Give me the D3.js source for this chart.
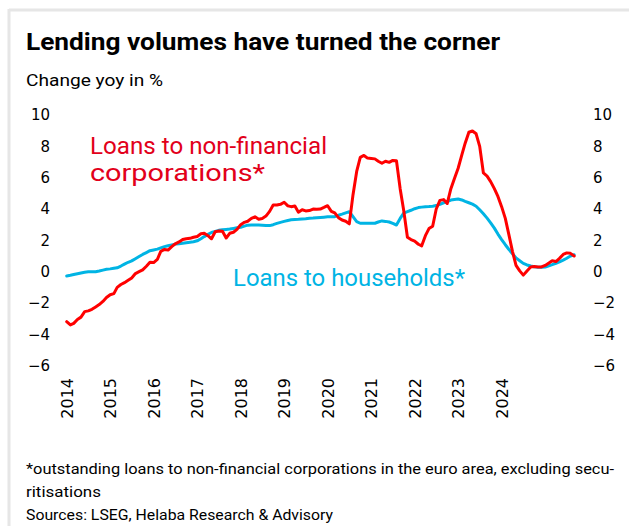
<!DOCTYPE html>
<html>
<head>
<meta charset="utf-8">
<script src="https://cdn.jsdelivr.net/npm/d3@7"></script>
<style>
  html, body { margin: 0; padding: 0; background: #fff; }
  svg { display: block; }
</style>
</head>
<body>
<svg id="chart" width="629" height="526"></svg>
<script>
// Year-on-year growth of euro-area loans, monthly from January 2014
const startYear = 2014;
const yearTicks = [2014, 2015, 2016, 2017, 2018, 2019, 2020, 2021, 2022, 2023, 2024];
const valueTicks = [-6, -4, -2, 0, 2, 4, 6, 8, 10];

// Loans to non-financial corporations, % yoy
const loansNFC = [
  -3.19, -3.4, -3.3, -3.05, -2.9, -2.55, -2.5, -2.4, -2.25, -2.1,
  -1.9, -1.65, -1.47, -1.4, -1.0, -0.82, -0.7, -0.55, -0.4, -0.12,
  0.0, 0.12, 0.35, 0.6, 0.58, 0.78, 1.3, 1.42, 1.38, 1.6,
  1.78, 1.9, 2.05, 2.1, 2.13, 2.2, 2.25, 2.42, 2.45, 2.3,
  2.1, 2.55, 2.6, 2.58, 2.15, 2.45, 2.52, 2.7, 3.0, 3.15,
  3.22, 3.4, 3.5, 3.35, 3.4, 3.55, 3.85, 4.26, 4.26, 4.3,
  4.43, 4.2, 4.15, 4.19, 3.8, 3.95, 3.88, 3.9, 4.0, 3.98,
  4.0, 4.1, 4.21, 3.85, 3.75, 3.45, 3.3, 3.22, 3.05, 4.9,
  6.4, 7.3, 7.42, 7.25, 7.23, 7.2, 7.05, 6.92, 7.05, 6.98,
  7.1, 7.08, 5.3, 3.9, 2.2, 2.05, 1.95, 1.75, 1.65, 2.3,
  2.75, 2.9, 4.0, 4.55, 4.6, 4.35, 5.3, 5.95, 6.6, 7.45,
  8.2, 8.9, 8.98, 8.8, 8.0, 6.3, 6.1, 5.75, 5.3, 4.8,
  4.15, 3.4, 2.4, 1.3, 0.4, 0.05, -0.22, 0.05, 0.3, 0.33,
  0.3, 0.3, 0.4, 0.55, 0.7, 0.65, 0.85, 1.1, 1.2, 1.17, 1.0
];

// Loans to households, % yoy
const loansHH = [
  -0.27, -0.23, -0.18, -0.13, -0.08, -0.03, 0, 0, 0, 0.04,
  0.1, 0.15, 0.18, 0.22, 0.25, 0.36, 0.48, 0.6, 0.69, 0.83,
  0.97, 1.1, 1.22, 1.34, 1.39, 1.44, 1.52, 1.6, 1.66, 1.71,
  1.76, 1.79, 1.82, 1.85, 1.88, 1.91, 1.97, 2.1, 2.24, 2.38,
  2.5, 2.57, 2.64, 2.68, 2.7, 2.72, 2.76, 2.8, 2.84, 2.91,
  2.97, 2.98, 2.98, 2.98, 2.97, 2.95, 2.94, 3.0, 3.08, 3.15,
  3.21, 3.27, 3.31, 3.33, 3.34, 3.36, 3.38, 3.41, 3.42, 3.44,
  3.46, 3.48, 3.5, 3.51, 3.51, 3.6, 3.67, 3.75, 3.83, 3.51,
  3.2, 3.09, 3.09, 3.09, 3.09, 3.09, 3.17, 3.24, 3.21, 3.17,
  3.08, 2.98, 3.4, 3.74, 3.83, 3.92, 4.02, 4.09, 4.12, 4.15,
  4.16, 4.18, 4.22, 4.3, 4.4, 4.48, 4.57, 4.61, 4.64, 4.58,
  4.49, 4.4, 4.31, 4.18, 3.95, 3.7, 3.42, 3.12, 2.78, 2.4,
  2.05, 1.72, 1.43, 1.15, 0.88, 0.7, 0.53, 0.43, 0.36, 0.31,
  0.29, 0.28, 0.3, 0.38, 0.45, 0.54, 0.63, 0.74, 0.86, 1.0, 1.08
];

const title = "Lending volumes have turned the corner";
const subtitle = "Change yoy in %";
const labelNFC = ["Loans to non-financial", "corporations*"];
const labelHH = "Loans to households*";
const notes = [
  "*outstanding loans to non-financial corporations in the euro area, excluding secu-",
  "ritisations",
  "Sources: LSEG, Helaba Research & Advisory"
];

const RED = "#ff0000";
const RED_TEXT = "#e2001a";
const BLUE = "#00b4e4";
const TEXT_FONT = "Roboto, 'Noto Sans', sans-serif";
const TICK_FONT = "'DejaVu Sans', Verdana, sans-serif";

const svg = d3.select("#chart");

// card frame (left and top edge)
svg.append("line").attr("x1", 9).attr("x2", 9).attr("y1", 9).attr("y2", 526)
  .attr("stroke", "#e6e6e6").attr("stroke-width", 3);
svg.append("line").attr("x1", 9).attr("x2", 629).attr("y1", 10).attr("y2", 10)
  .attr("stroke", "#e6e6e6").attr("stroke-width", 3);

// scales
const x = d3.scaleTime()
  .domain([new Date(2014, 0, 1), new Date(2025, 0, 1)])
  .range([66.7, 545.2]);
const y = d3.scaleLinear().domain([-6, 10]).range([365.7, 115]);

const dates = loansNFC.map((_, i) => new Date(startYear, i, 1));

// headings
svg.append("text").attr("x", 26).attr("y", 50)
  .attr("font-family", TEXT_FONT).attr("font-weight", 700).attr("font-size", 24)
  .attr("fill", "#000").attr("textLength", 474).attr("lengthAdjust", "spacingAndGlyphs")
  .text(title);
svg.append("text").attr("x", 26).attr("y", 86)
  .attr("font-family", TEXT_FONT).attr("font-size", 17)
  .attr("fill", "#000").attr("textLength", 137).attr("lengthAdjust", "spacingAndGlyphs")
  .text(subtitle);

// axes
const tickStyle = g => {
  g.select(".domain").remove();
  g.selectAll("text").attr("font-family", TICK_FONT).attr("font-size", 15).attr("fill", "#000");
};
svg.append("g").attr("transform", "translate(56,0)")
  .call(d3.axisLeft(y).tickValues(valueTicks).tickSize(0).tickPadding(6).tickFormat(d3.format("d")))
  .call(tickStyle);
svg.append("g").attr("transform", "translate(587,0)")
  .call(d3.axisRight(y).tickValues(valueTicks).tickSize(0).tickPadding(6).tickFormat(d3.format("d")))
  .call(tickStyle);
const xAxis = svg.append("g").attr("transform", "translate(0,370)")
  .call(d3.axisBottom(x).tickValues(yearTicks.map(yr => new Date(yr, 0, 1)))
    .tickSize(0).tickFormat(d3.timeFormat("%Y")))
  .call(tickStyle);
xAxis.selectAll("text")
  .attr("transform", "rotate(-90)")
  .attr("text-anchor", "end")
  .attr("x", -8).attr("y", 0).attr("dy", "0.36em")
  .attr("font-size", 16);

// lines
const line = d3.line().x((d, i) => x(dates[i])).y(d => y(d));
svg.append("path").datum(loansHH)
  .attr("d", line).attr("fill", "none").attr("stroke", BLUE)
  .attr("stroke-width", 3).attr("stroke-linejoin", "round").attr("stroke-linecap", "round");
svg.append("path").datum(loansNFC)
  .attr("d", line).attr("fill", "none").attr("stroke", RED)
  .attr("stroke-width", 3).attr("stroke-linejoin", "round").attr("stroke-linecap", "round");

// series labels
svg.append("text").attr("x", 90).attr("y", 154)
  .attr("font-family", TEXT_FONT).attr("font-size", 23).attr("fill", RED_TEXT)
  .attr("textLength", 237).attr("lengthAdjust", "spacingAndGlyphs")
  .text(labelNFC[0]);
svg.append("text").attr("x", 90).attr("y", 181)
  .attr("font-family", TEXT_FONT).attr("font-size", 23).attr("fill", RED_TEXT)
  .attr("textLength", 175).attr("lengthAdjust", "spacingAndGlyphs")
  .text(labelNFC[1]);
svg.append("text").attr("x", 233).attr("y", 286)
  .attr("font-family", TEXT_FONT).attr("font-size", 23).attr("fill", BLUE)
  .attr("textLength", 232).attr("lengthAdjust", "spacingAndGlyphs")
  .text(labelHH);

// footnotes
const noteLen = [588, 75, 307];
notes.forEach((t, i) => {
  svg.append("text").attr("x", 26).attr("y", 474 + i * 23)
    .attr("font-family", TEXT_FONT).attr("font-size", 15).attr("fill", "#000")
    .attr("textLength", noteLen[i]).attr("lengthAdjust", "spacingAndGlyphs")
    .text(t);
});
</script>
</body>
</html>
